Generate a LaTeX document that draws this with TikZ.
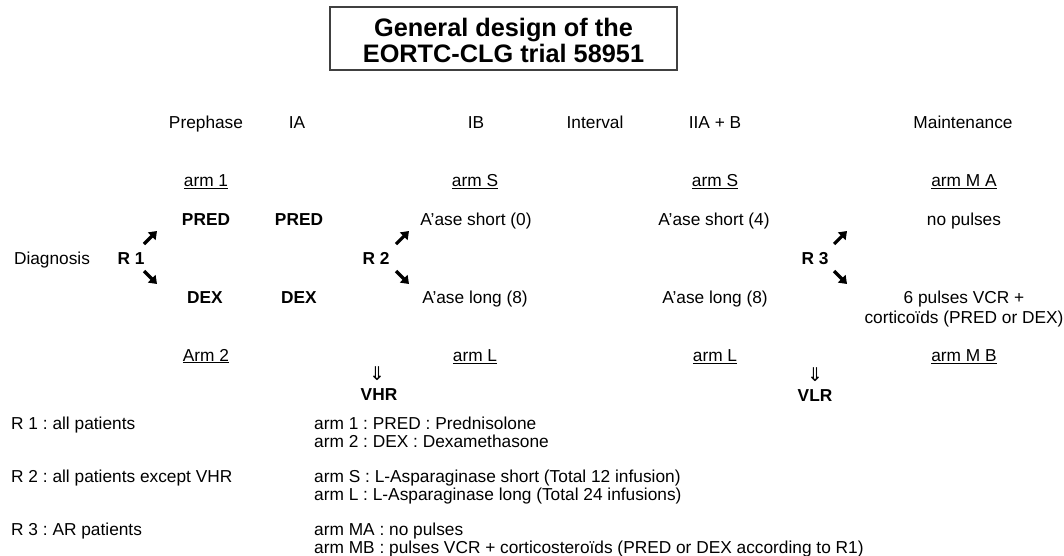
\documentclass[tikz,border=0pt]{standalone}
\usepackage{fontspec}
\setmainfont{Liberation Sans}
\newfontfamily\dvfont{DejaVu Sans}
\usetikzlibrary{arrows.meta}
\frenchspacing
\newcommand\armul[1]{\underline{#1}}
\tikzset{
  txt/.style={inner sep=0pt, text height=12.4pt, text depth=0pt, font=\fontsize{17.3}{20}\selectfont},
  btxt/.style={txt, font=\fontsize{17.3}{20}\selectfont\bfseries},
  ltxt/.style={txt, anchor=west},
  hdr/.style={txt},
  rarr/.style={line width=3.2pt, -{Triangle[length=7.5pt,width=10.5pt]}},
  dbl/.style={inner sep=0pt, font=\fontsize{19}{21}\dvfont},
  titlebox/.style={draw=black!75, line width=1.2pt}
}
\begin{document}
\begin{tikzpicture}[x=1pt,y=-1pt]
\useasboundingbox (0,0) rectangle (1064,555);
% title
\draw[titlebox] (330,7) rectangle (677,70);
\node[inner sep=0pt, align=center, font=\fontsize{25.3}{26}\selectfont\bfseries] (title) at (503.5,40) {General design of the\\EORTC-CLG trial 58951};
% headers
\node[hdr] (h1) at (206,122) {Prephase};
\node[hdr] (h2) at (297,122) {IA};
\node[hdr] (h3) at (476,122) {IB};
\node[hdr] (h4) at (595,122) {Interval};
\node[hdr] (h5) at (715,122) {IIA + B};
\node[hdr] (h6) at (963,122) {Maintenance};
% arm labels top
\node[txt] (a1) at (206,180) {\armul{arm 1}};
\node[txt] (aS1) at (475,180) {\armul{arm S}};
\node[txt] (aS2) at (715,180) {\armul{arm S}};
\node[txt] (aMA) at (964,180) {\armul{arm M A}};
% row PRED
\node[btxt] (p1) at (206,219) {PRED};
\node[btxt] (p2) at (299,219) {PRED};
\node[txt] (s0) at (476,219) {A'ase short (0)};
\node[txt] (s4) at (714,219) {A'ase short (4)};
\node[txt] (np) at (964,219) {no pulses};
% row R
\node[txt] (diag) at (52,258) {Diagnosis};
\node[btxt] (r1) at (131,258) {R 1};
\node[btxt] (r2) at (376,258) {R 2};
\node[btxt] (r3) at (815,258) {R 3};
% arrows
\coordinate (r1ua) at (144,244); \coordinate (r1ub) at (157,231);
\coordinate (r1da) at (144,271); \coordinate (r1db) at (157,284);
\coordinate (r2ua) at (396,244); \coordinate (r2ub) at (409,231);
\coordinate (r2da) at (396,271); \coordinate (r2db) at (409,284);
\coordinate (r3ua) at (834,244); \coordinate (r3ub) at (847,231);
\coordinate (r3da) at (834,271); \coordinate (r3db) at (847,284);
\draw[rarr] (r1ua) -- (r1ub);
\draw[rarr] (r1da) -- (r1db);
\draw[rarr] (r2ua) -- (r2ub);
\draw[rarr] (r2da) -- (r2db);
\draw[rarr] (r3ua) -- (r3ub);
\draw[rarr] (r3da) -- (r3db);
% row DEX
\node[btxt] (d1) at (205,297) {DEX};
\node[btxt] (d2) at (299,297) {DEX};
\node[txt] (l8a) at (475,297) {A'ase long (8)};
\node[txt] (l8b) at (715,297) {A'ase long (8)};
\node[inner sep=0pt, anchor=base, align=center, font=\fontsize{17.3}{20}\selectfont] (pv) at (964,323) {6 pulses VCR +\\corticoïds (PRED or DEX)};
% arm labels bottom
\node[txt] (a2) at (206,355) {\armul{Arm 2}};
\node[txt] (aL1) at (475,355) {\armul{arm L}};
\node[txt] (aL2) at (715,355) {\armul{arm L}};
\node[txt] (aMB) at (964,355) {\armul{arm M B}};
% VHR / VLR
\node[dbl] (dv1) at (377,374) {⇓};
\node[btxt] (vhr) at (379,394) {VHR};
\node[dbl] (dv2) at (815,375) {⇓};
\node[btxt] (vlr) at (815,395) {VLR};
% legend
\node[ltxt] (k1) at (11,423) {R 1 : all patients};
\node[ltxt] (k1a) at (314,423) {arm 1 : PRED : Prednisolone};
\node[ltxt] (k1b) at (314,441) {arm 2 : DEX : Dexamethasone};
\node[ltxt] (k2) at (11,476) {R 2 : all patients except VHR};
\node[ltxt] (k2a) at (314,476) {arm S : L-Asparaginase short (Total 12 infusion)};
\node[ltxt] (k2b) at (314,494) {arm L : L-Asparaginase long (Total 24 infusions)};
\node[ltxt] (k3) at (11,529) {R 3 : AR patients};
\node[ltxt] (k3a) at (314,529) {arm MA : no pulses};
\node[ltxt] (k3b) at (314,547) {arm MB : pulses VCR + corticosteroïds (PRED or DEX according to R1)};
\end{tikzpicture}
\end{document}
